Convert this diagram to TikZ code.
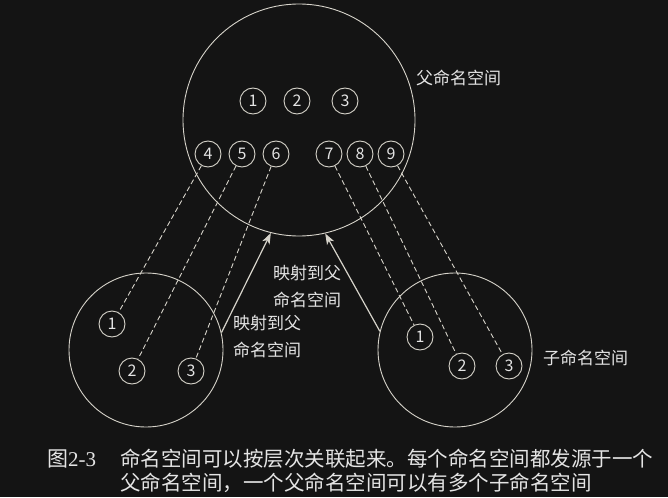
\documentclass[tikz,border=0pt]{standalone}
\usepackage{fontspec}
\setmainfont{Liberation Serif}
\newfontfamily\cjk{Noto Sans CJK SC}
\usetikzlibrary{arrows.meta}
\definecolor{bg}{HTML}{141414}
\definecolor{ln}{HTML}{D6D3CA}
\definecolor{tx}{HTML}{E4E4E4}
\begin{document}
\begin{tikzpicture}[x=1pt,y=-1pt,
  big/.style={circle,draw=ln,line width=0.9pt,inner sep=0pt,minimum size=#1},
  num/.style={circle,draw=ln,line width=0.9pt,inner sep=0pt,minimum size=26pt,text=tx,font=\cjk\fontsize{16}{16}\selectfont},
  lbl/.style={text=tx,font=\cjk\fontsize{17}{27}\selectfont,align=left,inner sep=0pt},
  link/.style={draw=ln,dash pattern=on 5pt off 3pt,line width=0.9pt},
  maparrow/.style={draw=ln,line width=1.2pt,-{Stealth[length=11pt,width=8pt,inset=3pt]}},
  captext/.style={text=tx,inner sep=0pt,align=left}]
\fill[bg] (0,0) rectangle (668,497);
\useasboundingbox (0,0) rectangle (668,497);
% big circles
\node[big=232pt] (pc) at (299,120) {};
\node[big=154pt] (lc) at (146,350) {};
\node[big=154pt] (rc) at (455,350) {};
% parent small circles
\node[num] (p1) at (253,101) {1};
\node[num] (p2) at (297,101) {2};
\node[num] (p3) at (345,101) {3};
\node[num] (p4) at (208,154) {4};
\node[num] (p5) at (242,154) {5};
\node[num] (p6) at (276,154) {6};
\node[num] (p7) at (329,154) {7};
\node[num] (p8) at (360,154) {8};
\node[num] (p9) at (391,154) {9};
% left child
\node[num] (l1) at (112,324) {1};
\node[num] (l2) at (132,371) {2};
\node[num] (l3) at (191,371) {3};
% right child
\node[num] (r1) at (420,337) {1};
\node[num] (r2) at (462,366) {2};
\node[num] (r3) at (509,366) {3};
% dashed mappings
\draw[link] (p4) -- (l1);
\draw[link] (p5) -- (l2);
\draw[link] (p6) -- (l3);
\draw[link] (p7) -- (r1);
\draw[link] (p8) -- (r2);
\draw[link] (p9) -- (r3);
% arrows
\draw[maparrow] (lc.13.3) -- (pc.256.8);
\draw[maparrow] (rc.166.7) -- (pc.283.9);
% labels
\node[lbl,anchor=west] (plabel) at (416,78) {父命名空间};
\node[lbl,anchor=west] (clabel) at (543,358) {子命名空间};
\node[lbl,anchor=west] (m1) at (233,336.5) {映射到父\\命名空间};
\node[lbl,anchor=west] (m2) at (273,286.5) {映射到父\\命名空间};
% caption
\node[captext,anchor=west,font=\fontsize{21}{24}\selectfont] (fig) at (47,459) {{\cjk 图}2-3};
\node[captext,anchor=west,font=\cjk\fontsize{20.5}{24}\selectfont] (caption) at (120,470.5) {命名空间可以按层次关联起来。每个命名空间都发源于一个\\父命名空间，一个父命名空间可以有多个子命名空间};
\end{tikzpicture}
\end{document}
